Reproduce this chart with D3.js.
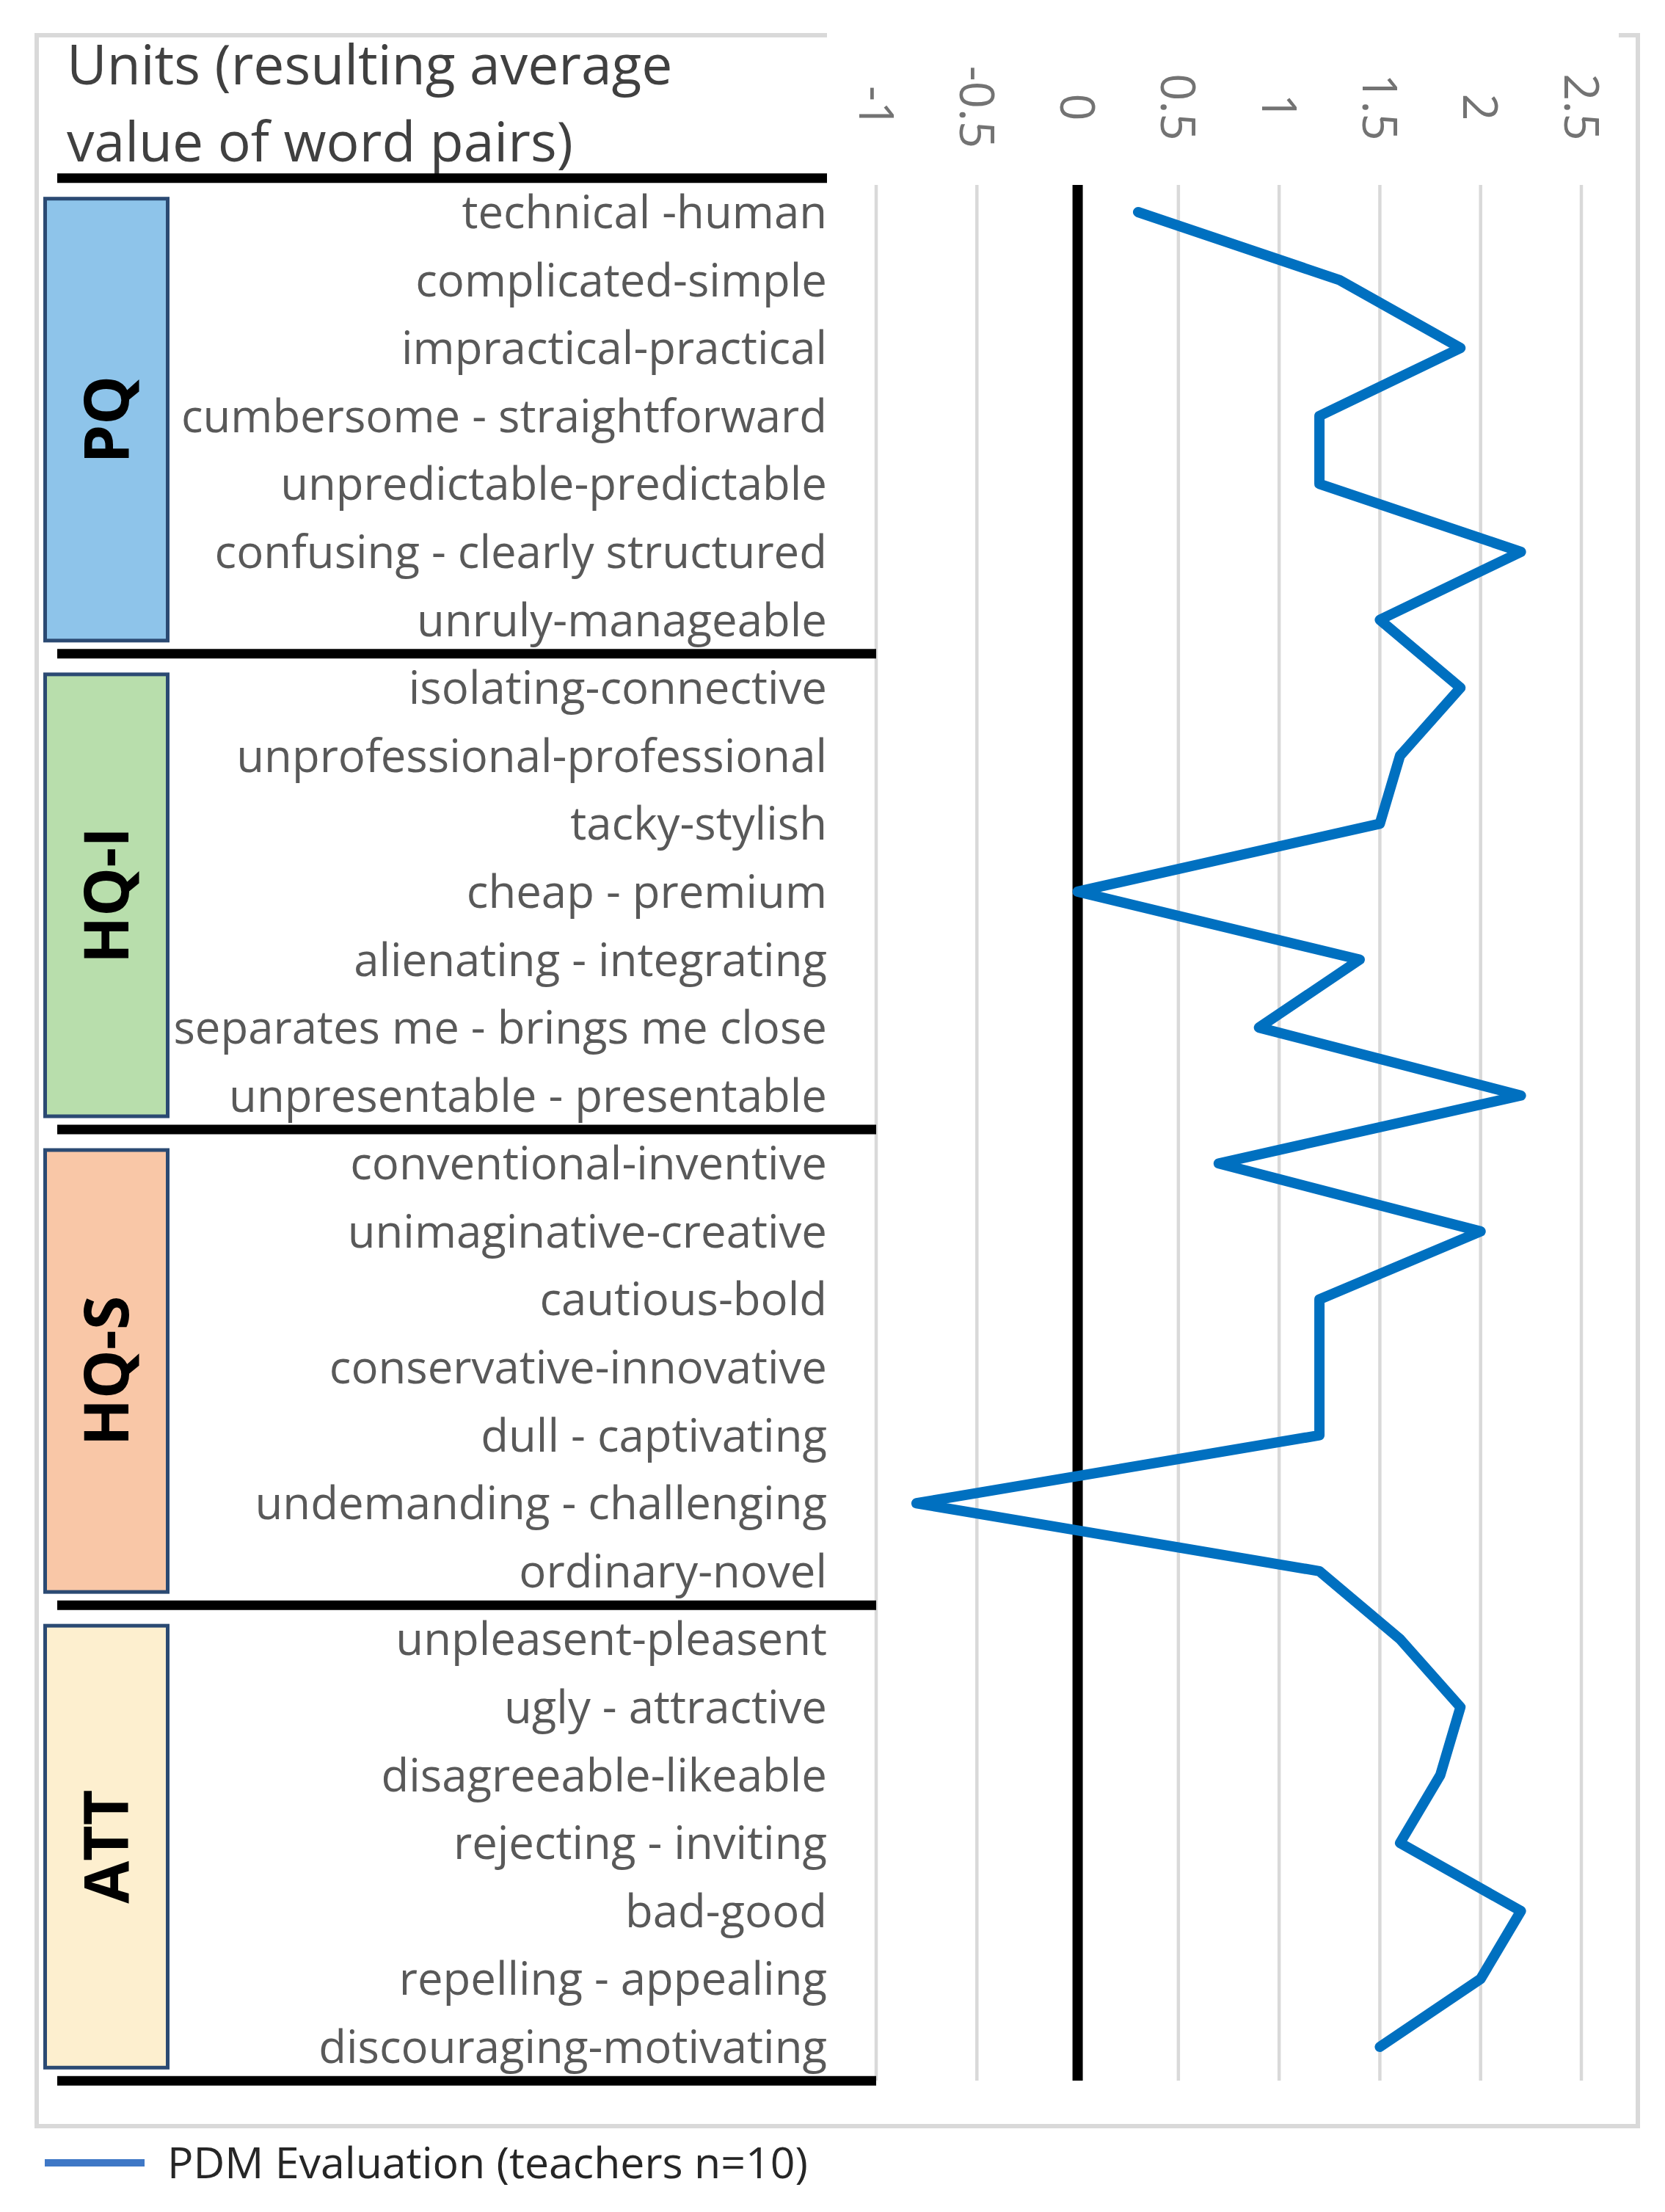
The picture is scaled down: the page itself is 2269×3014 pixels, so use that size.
<!DOCTYPE html>
<html>
<head>
<meta charset="utf-8">
<script src="https://cdn.jsdelivr.net/npm/d3@7/dist/d3.min.js"></script>
<style>
  html, body { margin: 0; padding: 0; background: #fff; }
  svg { display: block; }
  text { font-family: "Open Sans", "Noto Sans", sans-serif; }
</style>
</head>
<body>
<svg id="chart"></svg>
<script>
/* ============================================
   DATA — semantic differential
   ============================================ */

const groupNames = ["PQ", "HQ-I", "HQ-S", "ATT"];
const groupSizes = [7, 7, 7, 7];

const wordPairs = [
  "technical -human", "complicated-simple", "impractical-practical",
  "cumbersome - straightforward", "unpredictable-predictable",
  "confusing - clearly structured", "unruly-manageable",
  "isolating-connective", "unprofessional-professional", "tacky-stylish",
  "cheap - premium", "alienating - integrating",
  "separates me - brings me close", "unpresentable - presentable",
  "conventional-inventive", "unimaginative-creative", "cautious-bold",
  "conservative-innovative", "dull - captivating",
  "undemanding - challenging", "ordinary-novel",
  "unpleasent-pleasent", "ugly - attractive", "disagreeable-likeable",
  "rejecting - inviting", "bad-good", "repelling - appealing",
  "discouraging-motivating"
];

const pdmValues = [
  0.3, 1.3, 1.9, 1.2, 1.2, 2.2, 1.5,
  1.9, 1.6, 1.5, 0.0, 1.4, 0.9, 2.2,
  0.7, 2.0, 1.2, 1.2, 1.2, -0.8, 1.2,
  1.6, 1.9, 1.8, 1.6, 2.2, 2.0, 1.5
];

const tickValues = [-1, -0.5, 0, 0.5, 1, 1.5, 2, 2.5];
const titleLines = ["Units (resulting average", "value of word pairs)"];
const legendLabel = "PDM Evaluation (teachers n=10)";

/* ============================================
   STYLE
   ============================================ */

const groupFill = { "PQ": "#8ec4ea", "HQ-I": "#b8deac", "HQ-S": "#f9c7a7", "ATT": "#fdefcf" };
const boxStroke = "#2b4a73";
const lineBlue = "#0070c0";
const gridGray = "#d9d9d9";

const W = 2269, H = 3014;
const frame = { left: 50, top: 48, right: 2232, bottom: 2897 };
const panelRight = 1127;

/* ============================================
   CHART
   ============================================ */

const svg = d3.select("#chart").attr("width", W).attr("height", H);
svg.append("rect").attr("width", W).attr("height", H).attr("fill", "#fff");

const x = d3.scaleLinear().domain([-1, 2.5]).range([1194, 2155]);
const y = d3.scalePoint().domain(wordPairs).range([289, 2789]);
const step = y.step();
const gridTop = 252, gridBottom = 2835;

// outer frame (top edge interrupted behind the axis labels, as in the figure)
svg.append("path")
  .attr("d", `M${panelRight},${frame.top}H${frame.left}V${frame.bottom}H${frame.right}V${frame.top}H${frame.right - 26}`)
  .attr("fill", "none")
  .attr("stroke", gridGray)
  .attr("stroke-width", 6);

// vertical gridlines
svg.append("g")
  .selectAll("line")
  .data(tickValues.filter(d => d !== 0))
  .join("line")
  .attr("x1", d => x(d)).attr("x2", d => x(d))
  .attr("y1", gridTop).attr("y2", gridBottom)
  .attr("stroke", gridGray).attr("stroke-width", 4.5);

// tick labels, rotated
svg.append("g")
  .selectAll("text")
  .data(tickValues)
  .join("text")
  .attr("transform", d => `translate(${x(d)},146) rotate(90)`)
  .attr("text-anchor", "middle")
  .attr("dy", "0.36em")
  .attr("font-size", 65)
  .attr("fill", "#737373")
  .text(d => String(d));

// zero line
svg.append("line")
  .attr("x1", x(0)).attr("x2", x(0))
  .attr("y1", gridTop).attr("y2", gridBottom)
  .attr("stroke", "#000").attr("stroke-width", 14);

// title
svg.append("g")
  .selectAll("text")
  .data(titleLines)
  .join("text")
  .attr("x", 91)
  .attr("y", (d, i) => 115 + i * 105)
  .attr("font-size", 75)
  .attr("fill", "#404040")
  .text(d => d);

// group separators + boxes
const cum = [0];
groupSizes.forEach(n => cum.push(cum[cum.length - 1] + n));
const sepY = cum.map(c => y(wordPairs[0]) + (c - 0.5) * step);

svg.append("g")
  .selectAll("line")
  .data(sepY)
  .join("line")
  .attr("x1", 78)
  .attr("x2", (d, i) => i === 0 ? panelRight : x(-1))
  .attr("y1", d => d).attr("y2", d => d)
  .attr("stroke", "#000").attr("stroke-width", 13);

const boxes = svg.append("g")
  .selectAll("g")
  .data(groupNames)
  .join("g");

boxes.append("rect")
  .attr("x", 61.5)
  .attr("width", 167)
  .attr("y", (d, i) => sepY[i] + 28)
  .attr("height", (d, i) => sepY[i + 1] - 18 - (sepY[i] + 28))
  .attr("fill", d => groupFill[d])
  .attr("stroke", boxStroke)
  .attr("stroke-width", 5);

boxes.append("text")
  .attr("transform", (d, i) => `translate(145,${(sepY[i] + 28 + sepY[i + 1] - 18) / 2}) rotate(-90)`)
  .attr("text-anchor", "middle")
  .attr("dy", "0.36em")
  .attr("font-family", "'Liberation Sans', Arial, sans-serif")
  .attr("font-weight", "bold")
  .attr("font-size", 84)
  .attr("fill", "#000")
  .text(d => d);

// word pair labels
svg.append("g")
  .selectAll("text")
  .data(wordPairs)
  .join("text")
  .attr("x", panelRight)
  .attr("y", d => y(d) + 22)
  .attr("text-anchor", "end")
  .attr("font-size", 61.7)
  .attr("fill", "#595959")
  .text(d => d);

// data line
const line = d3.line()
  .x(d => x(d.v))
  .y(d => y(d.pair));

svg.append("path")
  .datum(wordPairs.map((pair, i) => ({ pair, v: pdmValues[i] })))
  .attr("d", line)
  .attr("fill", "none")
  .attr("stroke", lineBlue)
  .attr("stroke-width", 14)
  .attr("stroke-linejoin", "round")
  .attr("stroke-linecap", "round");

// legend
const legend = svg.append("g").attr("transform", "translate(61,2947)");
legend.append("line")
  .attr("x1", 0).attr("x2", 136)
  .attr("stroke", "#3f78c6").attr("stroke-width", 10);
legend.append("text")
  .attr("x", 167)
  .attr("y", 21)
  .attr("font-size", 59)
  .attr("fill", "#262626")
  .text(legendLabel);
</script>
</body>
</html>
